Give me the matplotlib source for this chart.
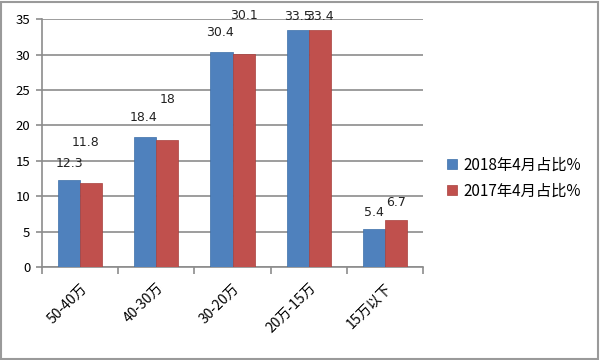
import numpy as np
import matplotlib
matplotlib.use("Agg")
from matplotlib import pyplot as plt
import matplotlib.patches

plt.rcParams['font.family'] = ['Noto Sans CJK SC', 'DejaVu Sans']

categories = ['50-40万', '40-30万', '30-20万', '20万-15万', '15万以下']
share_2018 = [12.3, 18.4, 30.4, 33.5, 5.4]
share_2017 = [11.8, 18.0, 30.1, 33.4, 6.7]
series_names = ['2018年4月占比%', '2017年4月占比%']

# label offsets (points) above each bar, as in the reference
off_2018 = [(0, 7), (-1, 9), (-1, 9), (0, 5), (0, 7)]
off_2017 = [(-4, 25), (0, 24), (0, 23), (0, 5), (0, 8)]

blue = '#4F81BD'
red = '#C0504D'

fig = plt.figure(figsize=(6, 3.6), dpi=100)
ax = fig.add_axes([0.07, 0.258, 0.635, 0.689])

x = np.arange(len(categories))
w = 0.29
ax.bar(x - w / 2, share_2018, w, color=blue, edgecolor='#3d6fa8', linewidth=0.5,
       label=series_names[0], zorder=3)
ax.bar(x + w / 2, share_2017, w, color=red, edgecolor='#a8403d', linewidth=0.5,
       label=series_names[1], zorder=3)

for i in range(len(x)):
    ax.annotate('%g' % share_2018[i], (x[i] - w / 2, share_2018[i]), xytext=off_2018[i],
                textcoords='offset points', ha='center', va='bottom', fontsize=9,
                color='#222222', family=['DejaVu Sans'], annotation_clip=False, zorder=4)
    ax.annotate('%g' % share_2017[i], (x[i] + w / 2, share_2017[i]), xytext=off_2017[i],
                textcoords='offset points', ha='center', va='bottom', fontsize=9,
                color='#222222', family=['DejaVu Sans'], annotation_clip=False, zorder=4)

ax.set_xlim(-0.5, len(categories) - 0.5)
ax.set_ylim(0, 35)
ax.set_yticks(range(0, 36, 5))
ax.yaxis.grid(True, color='#8c8c8c', linewidth=1.2, zorder=0)
for s in ['top', 'right']:
    ax.spines[s].set_visible(False)
for s in ['left', 'bottom']:
    ax.spines[s].set_color('#8c8c8c')
    ax.spines[s].set_linewidth(1.2)

ax.set_xticks(np.arange(-0.5, len(categories), 1.0))
ax.set_xticklabels([])
ax.set_xticks(x, minor=True)
ax.set_xticklabels(categories, minor=True, rotation=45, ha='right', va='top',
                   rotation_mode='anchor', fontsize=10)
ax.tick_params(axis='x', which='major', length=5, color='#8c8c8c', width=1.2)
ax.tick_params(axis='x', which='minor', length=0, pad=10)
ax.tick_params(axis='y', length=4.5, color='#8c8c8c', width=1.2, labelsize=9.5, pad=4)

ax.legend(loc='center left', bbox_to_anchor=(1.028, 0.36), frameon=False, fontsize=11,
          handlelength=0.6, handleheight=0.6, handletextpad=0.45, labelspacing=0.6)

fig.patches.append(matplotlib.patches.Rectangle((0.002, 0.004), 0.995, 0.99,
                   transform=fig.transFigure, fill=False, edgecolor='#9a9a9a', linewidth=1.5))

fig.savefig('out.png', dpi=100)
